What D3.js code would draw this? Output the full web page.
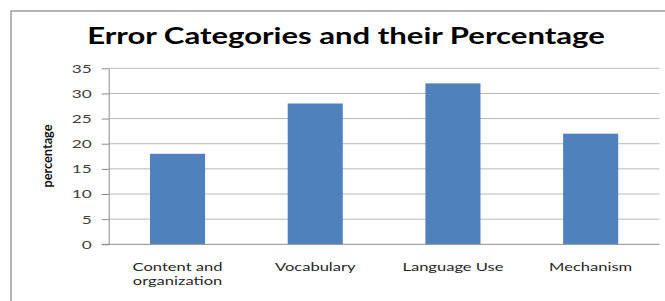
<!DOCTYPE html>
<html><head><meta charset="utf-8">
<script src="https://d3js.org/d3.v7.min.js"></script>
<style>
body{margin:0;background:#fff;}
svg{display:block;}
</style></head>
<body>
<svg id="chart" width="665" height="301"></svg>
<script>
const title = "Error Categories and their Percentage";
const yLabel = "percentage";
const categories = ["Content and organization", "Vocabulary", "Language Use", "Mechanism"];
const categoryLines = [["Content and", "organization"], ["Vocabulary"], ["Language Use"], ["Mechanism"]];
const values = [18, 28, 32, 22];
const yTicks = [0, 5, 10, 15, 20, 25, 30, 35];

(function () {
const svg = d3.select("#chart");
const W = 665, H = 301;
const pLeft = 108.7, pRight = 659.5, pTop = 68.3, pBottom = 244.3;
const font = "Lato, 'Open Sans', 'DejaVu Sans', sans-serif";
const labelSize = 11.5;

svg.append("rect").attr("x", 0).attr("y", 0).attr("width", W).attr("height", H).attr("fill", "#fff");
svg.append("rect").attr("x", 11).attr("y", 11).attr("width", 700).attr("height", 320)
  .attr("fill", "#fff").attr("stroke", "#868686").attr("stroke-width", 1.2);

// measure horizontal stretch of the reference's text
const probe = svg.append("text").attr("font-family", font).attr("font-size", labelSize).text("Content and");
const sx = 90 / probe.node().getComputedTextLength();
probe.remove();

const x = d3.scaleBand().domain(categories).range([pLeft, pRight]).paddingInner(0.6).paddingOuter(0.3);
const y = d3.scaleLinear().domain([0, 35]).range([pBottom, pTop]);

// gridlines
svg.append("g").selectAll("line").data(yTicks.filter(d => d > 0)).join("line")
  .attr("x1", pLeft).attr("x2", pRight)
  .attr("y1", d => y(d)).attr("y2", d => y(d))
  .attr("stroke", "#b8b8b8").attr("stroke-width", 1);

// bars
svg.append("g").selectAll("rect").data(categories).join("rect")
  .attr("x", d => x(d)).attr("width", x.bandwidth())
  .attr("y", (d, i) => y(values[i])).attr("height", (d, i) => y(0) - y(values[i]))
  .attr("fill", "#4F81BD");

// y axis
const yAxis = svg.append("g").attr("transform", `translate(${pLeft},0)`)
  .call(d3.axisLeft(y).tickValues(yTicks).tickSize(7).tickSizeOuter(0).tickFormat(d3.format("d")));
yAxis.select(".domain").attr("stroke", "#8c8c8c");
yAxis.selectAll(".tick line").attr("stroke", "#8c8c8c");
yAxis.selectAll(".tick text")
  .attr("x", 0)
  .attr("transform", `translate(-17,0) scale(${sx},1)`)
  .attr("font-family", font).attr("font-size", 12).attr("fill", "#404040");

// x axis line
svg.append("line").attr("x1", pLeft - 7).attr("x2", pRight)
  .attr("y1", y(0)).attr("y2", y(0)).attr("stroke", "#8c8c8c");

// category labels (one text per line)
const lineData = [];
categories.forEach((c, i) => categoryLines[i].forEach((t, j) => lineData.push({c, t, j})));
svg.append("g").selectAll("text").data(lineData).join("text")
  .attr("transform", d => `translate(${x(d.c) + x.bandwidth() / 2},${270.7 + d.j * 13.8}) scale(${sx},1)`)
  .attr("text-anchor", "middle")
  .attr("font-family", font).attr("font-size", labelSize).attr("fill", "#262626")
  .text(d => d.t);

// y label
const yl = svg.append("text")
  .attr("text-anchor", "middle")
  .attr("font-family", font).attr("font-weight", "bold").attr("font-size", 13)
  .attr("fill", "#111").text(yLabel);
const ylScale = 63 / yl.node().getComputedTextLength();
yl.attr("transform", `translate(52,156) rotate(-90) scale(${ylScale},1)`);

// title
const tt = svg.append("text")
  .attr("text-anchor", "middle")
  .attr("font-family", font).attr("font-weight", "bold").attr("font-size", 22.5)
  .attr("fill", "#000").text(title);
const tScale = 518 / tt.node().getComputedTextLength();
tt.attr("transform", `translate(346,44) scale(${tScale},1)`);
})();
</script>
</body></html>
